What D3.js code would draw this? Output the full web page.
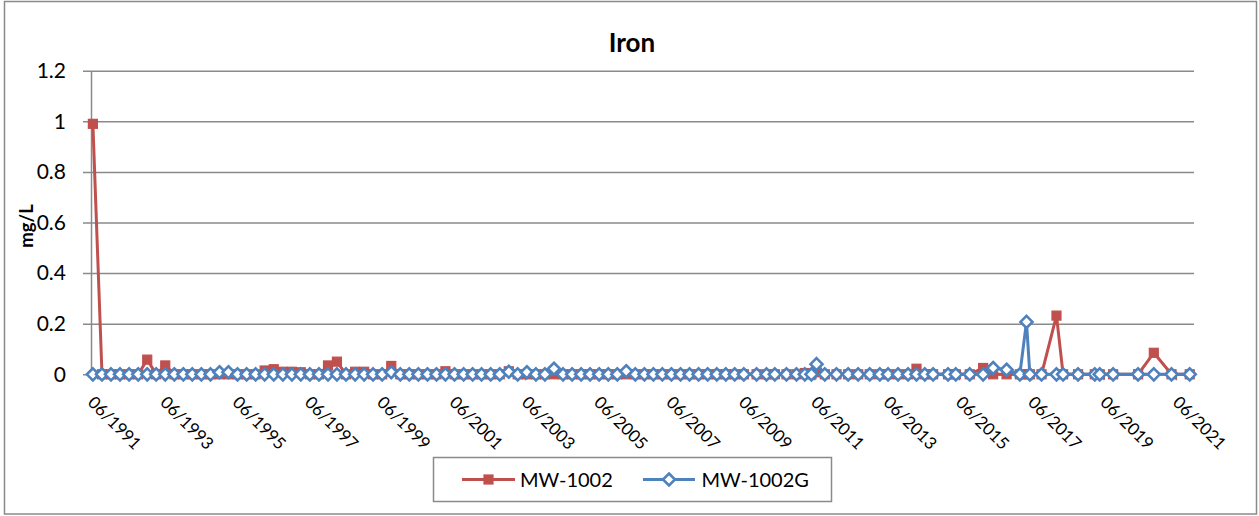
<!DOCTYPE html>
<html><head><meta charset="utf-8">
<script src="https://cdn.jsdelivr.net/npm/d3@7"></script>
<style>body{margin:0;background:#fff;} svg{display:block;font-family:Lato,"Open Sans",sans-serif;}</style>
</head><body><svg id="c" width="1259" height="516"></svg>
<script>
// ---- data ----
const sampleDates = [
 "1991-06-20","1991-09-20","1991-12-20",
 "1992-03-20","1992-06-20","1992-09-20","1992-12-20",
 "1993-03-20","1993-06-20","1993-09-20","1993-12-20",
 "1994-03-20","1994-06-20","1994-09-20","1994-12-20",
 "1995-03-20","1995-06-20","1995-09-20","1995-12-20",
 "1996-03-20","1996-06-20","1996-09-20","1996-12-20",
 "1997-03-20","1997-06-20","1997-09-20","1997-12-20",
 "1998-03-20","1998-06-20","1998-09-20","1998-12-20",
 "1999-03-20","1999-06-20","1999-09-20","1999-12-20",
 "2000-03-20","2000-06-20","2000-09-20","2000-12-20",
 "2001-03-20","2001-06-20","2001-09-20","2001-12-20",
 "2002-03-20","2002-06-20","2002-09-20","2002-12-20",
 "2003-03-20","2003-06-20","2003-09-20","2003-12-20",
 "2004-03-20","2004-06-20","2004-09-20","2004-12-20",
 "2005-03-20","2005-06-20","2005-09-20","2005-12-20",
 "2006-03-20","2006-06-20","2006-09-20","2006-12-20",
 "2007-03-20","2007-06-20","2007-09-20","2007-12-20",
 "2008-03-20","2008-06-20","2008-09-20","2008-12-20",
 "2009-03-20","2009-06-20",
 "2009-10-27","2010-02-04","2010-04-29","2010-08-25","2010-12-04",
 "2011-02-26","2011-05-04","2011-06-24","2011-09-16","2012-01-12",
 "2012-05-09","2012-08-18","2012-12-13","2013-03-25","2013-06-16",
 "2013-09-25","2014-01-04","2014-03-30","2014-06-22","2014-09-14",
 "2015-02-12","2015-05-01","2015-09-19","2016-02-01","2016-05-12",
 "2016-09-25","2017-02-06","2017-04-14","2017-05-18","2017-09-13",
 "2018-02-11","2018-04-19","2018-09-17","2019-03-05","2019-04-24",
 "2019-09-06","2020-05-15","2020-10-21","2021-04-18","2021-10-19"
];
const mw1002 = [
 0.99,0,0,
 0,0,0,0.058,
 0,0.035,0,0,
 0,0,0,0,
 0,0,0,0,
 0.015,0.02,0.01,0.01,
 0.008,0,0,0.035,
 0.05,0,0.01,0.01,
 0,0,0.033,0,
 0,0,0,0,
 0.012,0,0,0,
 0,0,0,0.012,
 0,0,0,0,
 0,0,0,0,
 0,0,0,0,
 0,0,0,0,
 0,0,0,0,
 0,0,0,0,
 0,0,
 0,0,0,0,0,
 0.005,0,0.008,0,0,
 0,0,0,0,0,
 0,0,0.022,0,0,
 0,0,0,0.025,0,
 0,0,0,0,0,
 0.232,0,0,0,0,
 0,0,0.085,0,0
];
const mw1002G = [
 0,0,0,
 0,0,0,0,
 0,0,0,0,
 0,0,0,0.008,
 0.008,0,0,0,
 0,0,0,0,
 0,0,0,0,
 0,0,0,0,
 0,0,0.008,0,
 0,0,0,0,
 0,0,0,0,
 0,0,0,0.01,
 0,0.008,0,0,
 0.022,0,0,0,
 0,0,0,0,
 0.012,0,0,0,
 0,0,0,0,
 0,0,0,0,
 0,0,
 0,0,0,0,0,
 0,0,0.04,0,0,
 0,0,0,0,0,
 0,0,0,0,0,
 0,0,0,0,0.025,
 0.018,0,0.207,0,0,
 0,0,0,0,0,
 0,0,0,0,0
];
const yTicks = [0,0.2,0.4,0.6,0.8,1,1.2];
const yTickLabels = ["0","0.2","0.4","0.6","0.8","1","1.2"];
const xTickLabels = ["06/1991","06/1993","06/1995","06/1997","06/1999","06/2001","06/2003",
 "06/2005","06/2007","06/2009","06/2011","06/2013","06/2015","06/2017","06/2019","06/2021"];
const seriesNames = ["MW-1002","MW-1002G"];
const seriesColors = ["#C0504D","#4F81BD"];
const chartTitle = "Iron";
const yTitle = "mg/L";

// ---- drawing ----
const svg = d3.select("#c");
const grid = "#8a8a8a";
svg.append("rect").attr("x",4.5).attr("y",1.5).attr("width",1252).attr("height",512.5)
  .attr("fill","#fff").attr("stroke",grid).attr("stroke-width",1.5);

const parse = d3.timeParse("%Y-%m-%d");
const parseTick = d3.timeParse("%m/%Y");
const x = d3.scaleTime().domain([new Date(1991,5,1), new Date(2021,11,1)]).range([91,1194]);
const y = d3.scaleLinear().domain([0,1.2]).range([374.3,70.7]);

// y axis + gridlines
const ya = svg.append("g").attr("transform","translate(91,0)")
  .call(d3.axisLeft(y).tickValues(yTicks).tickSizeInner(-(1194-91)).tickSizeOuter(0)
    .tickPadding(25).tickFormat((d,i)=>yTickLabels[i]));
ya.select(".domain").attr("stroke",grid).attr("stroke-width",1.5);
ya.selectAll(".tick line").attr("x1",-8).attr("stroke",grid).attr("stroke-width",1.5);
ya.selectAll(".tick text").attr("font-size",21).attr("fill","#000").attr("font-family","Lato");

// x axis
const xa = svg.append("g").attr("transform","translate(0,374.3)")
  .call(d3.axisBottom(x).tickValues(xTickLabels.map(parseTick)).tickSizeInner(6).tickSizeOuter(0)
    .tickFormat((d,i)=>xTickLabels[i]));
xa.select(".domain").attr("stroke",grid).attr("stroke-width",1.5);
xa.selectAll(".tick line").attr("stroke",grid).attr("stroke-width",1.5);
xa.selectAll(".tick text").attr("x",0).attr("y",0).attr("dy","0.35em")
  .attr("text-anchor","start").attr("transform","translate(-0.5,25) rotate(45)")
  .attr("font-size",17).attr("fill","#000").attr("font-family","Lato");

// title
svg.append("text").attr("x",632).attr("y",52).attr("text-anchor","middle")
  .attr("font-size",26).attr("font-weight","bold").text(chartTitle);
svg.append("text").attr("transform","translate(33,226) rotate(-90)").attr("text-anchor","middle")
  .attr("font-size",18.5).attr("font-weight","bold").text(yTitle);

// series
const rows = [mw1002, mw1002G].map(vals => sampleDates.map((s,i)=>({date:parse(s), v:vals[i]})));
const line = d3.line().x(d=>x(d.date)).y(d=>y(d.v));
const diamond = "M0,-6L6,0L0,6L-6,0Z";

function drawMarker(g, kind, color) {
  if (kind === 0) {
    g.append("rect").attr("x",-4.5).attr("y",-4.5).attr("width",9).attr("height",9)
      .attr("fill",color).attr("stroke",color).attr("stroke-width",1.2);
  } else {
    g.append("path").attr("d",diamond).attr("fill","#fff").attr("stroke",color).attr("stroke-width",2.6);
  }
}

rows.forEach((data,k)=>{
  const g = svg.append("g");
  g.append("path").datum(data).attr("d",line).attr("fill","none")
    .attr("stroke",seriesColors[k]).attr("stroke-width",3).attr("stroke-linejoin","round");
  data.forEach(d=>{
    const m = g.append("g").attr("transform",`translate(${x(d.date)},${y(d.v)})`);
    drawMarker(m,k,seriesColors[k]);
  });
});

// legend
const lg = svg.append("g");
lg.append("rect").attr("x",433.5).attr("y",457.5).attr("width",398).attr("height",44)
  .attr("fill","#fff").attr("stroke",grid).attr("stroke-width",1.5);
const legX = [[462,515,488.5,520],[643,695,669,701.5]];
seriesNames.forEach((name,k)=>{
  const [a,b,m,t] = legX[k];
  lg.append("line").attr("x1",a).attr("x2",b).attr("y1",479.5).attr("y2",479.5)
    .attr("stroke",seriesColors[k]).attr("stroke-width",3);
  const mg = lg.append("g").attr("transform",`translate(${m},479.5)`);
  drawMarker(mg,k,seriesColors[k]);
  lg.append("text").attr("x",t).attr("y",479.5).attr("dy","0.35em").attr("font-size",20).text(name);
});
</script></body></html>
